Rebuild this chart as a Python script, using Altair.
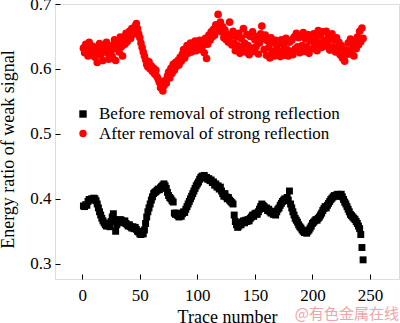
import altair as alt
import pandas as pd

SERIES = ["Before removal of strong reflection", "After removal of strong reflection"]

before_vals = [
    0.389, 0.388, 0.391, 0.390, 0.396, 0.399, 0.398, 0.400, 0.399, 0.401,
    0.400, 0.397, 0.392, 0.386, 0.380, 0.375, 0.370, 0.366, 0.363, 0.360,
    0.358, 0.362, 0.360, 0.357, 0.365, 0.372, 0.377, 0.368, 0.350, 0.360,
    0.364, 0.366, 0.368, 0.367, 0.365, 0.363, 0.366, 0.362, 0.360, 0.358,
    0.360, 0.357, 0.355, 0.357, 0.354, 0.356, 0.353, 0.350, 0.349, 0.346,
    0.345, 0.348, 0.346, 0.352, 0.362, 0.372, 0.380, 0.386, 0.392, 0.398,
    0.403, 0.408, 0.410, 0.411, 0.413, 0.415, 0.414, 0.417, 0.419, 0.421,
    0.423, 0.420, 0.416, 0.410, 0.405, 0.402, 0.400, 0.397, 0.395, 0.378,
    0.376, 0.378, 0.374, 0.372, 0.376, 0.373, 0.377, 0.380, 0.379, 0.384,
    0.388, 0.392, 0.396, 0.400, 0.404, 0.408, 0.412, 0.416, 0.420, 0.423,
    0.426, 0.430, 0.433, 0.435, 0.434, 0.436, 0.432, 0.433, 0.430, 0.431,
    0.428, 0.429, 0.425, 0.426, 0.421, 0.423, 0.418, 0.420, 0.415, 0.418,
    0.412, 0.408, 0.404, 0.408, 0.403, 0.400, 0.402, 0.398, 0.396, 0.394,
    0.392, 0.375, 0.365, 0.360, 0.356, 0.358, 0.362, 0.360, 0.364, 0.366,
    0.363, 0.367, 0.365, 0.368, 0.366, 0.370, 0.372, 0.375, 0.373, 0.377,
    0.378, 0.376, 0.380, 0.384, 0.388, 0.392, 0.390, 0.388, 0.385, 0.386,
    0.382, 0.384, 0.380, 0.378, 0.381, 0.376, 0.378, 0.375, 0.380, 0.384,
    0.386, 0.390, 0.393, 0.396, 0.398, 0.400, 0.397, 0.402, 0.398, 0.412,
    0.392, 0.386, 0.380, 0.375, 0.370, 0.367, 0.364, 0.360, 0.357, 0.355,
    0.352, 0.350, 0.348, 0.349, 0.347, 0.350, 0.352, 0.355, 0.358, 0.362,
    0.364, 0.366, 0.368, 0.367, 0.370, 0.372, 0.375, 0.378, 0.382, 0.385,
    0.388, 0.386, 0.390, 0.393, 0.396, 0.399, 0.401, 0.403, 0.405, 0.404,
    0.406, 0.407, 0.405, 0.404, 0.407, 0.403, 0.399, 0.395, 0.392, 0.388,
    0.384, 0.380, 0.376, 0.374, 0.372, 0.370, 0.368, 0.365, 0.362, 0.358,
    0.354, 0.345, 0.325, 0.306,
]

after_vals = [
    0.632, 0.625, 0.638, 0.628, 0.620, 0.641, 0.630, 0.622, 0.635, 0.627,
    0.618, 0.633, 0.610, 0.626, 0.639, 0.621, 0.630, 0.613, 0.628, 0.636,
    0.641, 0.624, 0.615, 0.632, 0.627, 0.619, 0.637, 0.645, 0.613, 0.631,
    0.640, 0.626, 0.649, 0.634, 0.620, 0.645, 0.638, 0.655, 0.642, 0.650,
    0.658, 0.647, 0.662, 0.653, 0.660, 0.666, 0.670, 0.662, 0.654, 0.648,
    0.640, 0.633, 0.626, 0.620, 0.614, 0.607, 0.603, 0.611, 0.600, 0.605,
    0.596, 0.601, 0.592, 0.598, 0.588, 0.584, 0.579, 0.571, 0.576, 0.566,
    0.574, 0.582, 0.578, 0.589, 0.595, 0.586, 0.601, 0.593, 0.607, 0.598,
    0.610, 0.604, 0.613, 0.606, 0.618, 0.612, 0.623, 0.630, 0.617, 0.628,
    0.636, 0.624, 0.633, 0.640, 0.626, 0.637, 0.631, 0.643, 0.628, 0.639,
    0.633, 0.644, 0.630, 0.641, 0.636, 0.625, 0.647, 0.616, 0.638, 0.652,
    0.644, 0.657, 0.649, 0.661, 0.652, 0.668, 0.660, 0.684, 0.664, 0.672,
    0.657, 0.665, 0.648, 0.660, 0.645, 0.653, 0.641, 0.672, 0.650, 0.637,
    0.658, 0.640, 0.628, 0.650, 0.636, 0.655, 0.624, 0.647, 0.633, 0.662,
    0.640, 0.626, 0.653, 0.636, 0.622, 0.650, 0.632, 0.657, 0.627, 0.645,
    0.634, 0.650, 0.623, 0.640, 0.654, 0.666, 0.646, 0.630, 0.652, 0.621,
    0.643, 0.633, 0.617, 0.648, 0.627, 0.640, 0.620, 0.644, 0.631, 0.624,
    0.639, 0.619, 0.645, 0.628, 0.637, 0.621, 0.647, 0.630, 0.620, 0.641,
    0.627, 0.644, 0.622, 0.649, 0.631, 0.655, 0.634, 0.648, 0.625, 0.651,
    0.636, 0.656, 0.627, 0.646, 0.634, 0.653, 0.624, 0.643, 0.649, 0.631,
    0.654, 0.637, 0.647, 0.628, 0.659, 0.640, 0.652, 0.633, 0.657, 0.644,
    0.635, 0.658, 0.639, 0.650, 0.629, 0.646, 0.654, 0.634, 0.645, 0.626,
    0.648, 0.631, 0.641, 0.622, 0.636, 0.617, 0.630, 0.612, 0.622, 0.629,
    0.640, 0.623, 0.646, 0.627, 0.637, 0.620, 0.643, 0.631, 0.649, 0.637,
    0.658, 0.642, 0.663, 0.647,
]

x_ticks = [0, 50, 100, 150, 200, 250]
y_ticks = [0.3, 0.4, 0.5, 0.6, 0.7]
watermark = "@有色金属在线"

df = pd.concat([
    pd.DataFrame({"trace": list(range(1, len(before_vals) + 1)), "ratio": before_vals, "series": SERIES[0]}),
    pd.DataFrame({"trace": list(range(1, len(after_vals) + 1)), "ratio": after_vals, "series": SERIES[1]}),
])

W, H = 344, 275
FONT = "Liberation Serif"

xscale = alt.Scale(domain=[-23.7, 275.2], nice=False, zero=False)
yscale = alt.Scale(domain=[0.2765, 0.7], nice=False, zero=False)

color = alt.Color(
    "series:N",
    scale=alt.Scale(domain=SERIES, range=["#000000", "#ff0000"]),
    legend=alt.Legend(
        title=None, orient="none", legendX=19.5, legendY=101.5, padding=0,
        rowPadding=1.5, labelFont=FONT, labelFontSize=17, labelColor="black",
        labelOffset=7.5, symbolSize=55, symbolStrokeWidth=0, labelLimit=400,
    ),
)
shape = alt.Shape("series:N", scale=alt.Scale(domain=SERIES, range=["square", "circle"]), legend=None)

layer_a = alt.Chart(df).transform_filter(alt.datum.series == SERIES[0]).mark_point(
    filled=True, size=48, opacity=1
).encode(
    x=alt.X("trace:Q", scale=xscale, axis=alt.Axis(
        orient="bottom", values=x_ticks, ticks=False, tickSize=0, domain=False, grid=False,
        labelFont=FONT, labelFontSize=17, labelColor="black", labelPadding=8,
        title="Trace number", titleFont=FONT, titleFontSize=18, titleFontWeight="normal",
        titleColor="black", titleBaseline="alphabetic", titleY=43, titleX=172,
    )),
    y=alt.Y("ratio:Q", scale=yscale, axis=alt.Axis(
        orient="left", values=y_ticks, format=".1f", ticks=False, tickSize=0, domain=False, grid=False,
        labelFont=FONT, labelFontSize=17, labelColor="black", labelPadding=4,
        title="Energy ratio of weak signal", titleFont=FONT, titleFontSize=18,
        titleFontWeight="normal", titleColor="black", titleAngle=270,
        titleBaseline="alphabetic", titleAlign="center", titleX=-42, titleY=145,
    )),
    color=color,
    shape=shape,
)

layer_b = alt.Chart(df).transform_filter(alt.datum.series == SERIES[1]).mark_point(
    filled=True, size=58, opacity=1
).encode(
    x=alt.X("trace:Q", scale=xscale, axis=alt.Axis(
        orient="top", offset=-H, values=x_ticks, labels=False, domain=False, grid=False,
        ticks=True, tickSize=5, tickColor="black", tickWidth=1, title=None,
    )),
    y=alt.Y("ratio:Q", scale=yscale, axis=alt.Axis(
        orient="right", offset=-W, values=y_ticks, labels=False, domain=False, grid=False,
        ticks=True, tickSize=5, tickColor="black", tickWidth=1, title=None,
    )),
    color=color,
    shape=shape,
)

mark_layer = alt.Chart(pd.DataFrame({"t": [watermark]})).mark_text(
    font="Noto Sans CJK SC", fontSize=15, color="#f0a4a4", align="right", baseline="middle"
).encode(text="t:N", x=alt.value(W), y=alt.value(310))

chart = alt.layer(layer_a, layer_b, mark_layer).resolve_axis(
    x="independent", y="independent"
).properties(
    width=W, height=H,
    autosize=alt.AutoSizeParams(type="none"),
    padding={"left": 55, "top": 4, "right": 1, "bottom": 44},
).configure_view(
    stroke="black", strokeWidth=1.2
).configure(background="white")

chart.save("out.html", embed_options={"renderer": "svg", "actions": False})
